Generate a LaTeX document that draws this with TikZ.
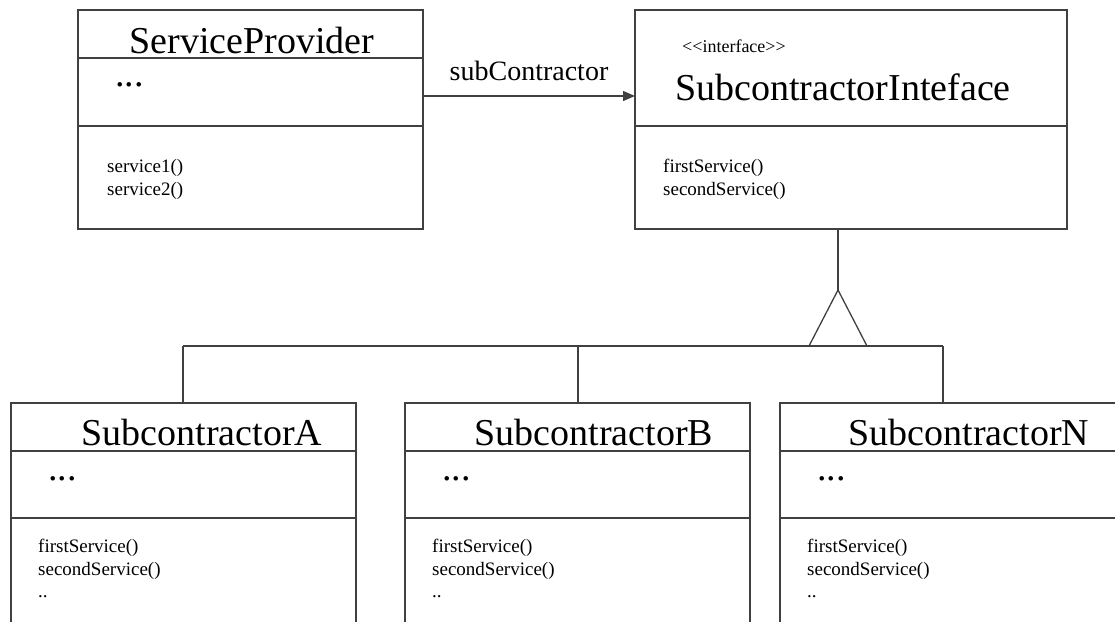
\documentclass[tikz,border=0pt]{standalone}
\usepackage{fontspec}
\setmainfont{Liberation Serif}
\usetikzlibrary{arrows.meta,positioning}

\tikzset{
  umlbox/.style={draw=black!75, line width=1.3pt, rectangle, inner sep=0pt, outer sep=0pt, anchor=north west},
  rule/.style={draw=black!75, line width=1.3pt},
  titletext/.style={font=\fontsize{38}{40}\selectfont, inner sep=0pt, anchor=base},
  dotstext/.style={font=\fontsize{38}{40}\selectfont, inner sep=0pt, anchor=base west},
  opstext/.style={font=\fontsize{19}{23}\selectfont, inner sep=0pt, anchor=base west}
}

\begin{document}
\begin{tikzpicture}[x=1pt, y=-1pt]
\useasboundingbox (0,0) rectangle (1115,621);
\clip (0,0) rectangle (1115,621);

% service provider class
\node[umlbox, minimum width=345pt, minimum height=219pt] (sp) at (78,10) {};
\draw[rule] ([yshift=-48pt]sp.north west) -- ([yshift=-48pt]sp.north east);
\draw[rule] ([yshift=-116pt]sp.north west) -- ([yshift=-116pt]sp.north east);
\node[titletext] (spname) at ([shift={(174,43)}]sp.north west) {ServiceProvider};
\node[dotstext] (spattr) at ([shift={(37,76)}]sp.north west) {...};
\node[opstext] (spopa) at ([shift={(29,162)}]sp.north west) {service1()};
\node[opstext] (spopb) at ([shift={(29,185)}]sp.north west) {service2()};

% interface class
\node[umlbox, minimum width=432pt, minimum height=219pt] (ifc) at (635,10) {};
\draw[rule] ([yshift=-116pt]ifc.north west) -- ([yshift=-116pt]ifc.north east);
\node[opstext, font=\fontsize{18}{22}\selectfont] (ifcstereo) at ([shift={(47,42)}]ifc.north west) {<{}<interface>{}>};
\node[dotstext] (ifcname) at ([shift={(40,90)}]ifc.north west) {SubcontractorInteface};
\node[opstext] (ifcopa) at ([shift={(28,162)}]ifc.north west) {firstService()};
\node[opstext] (ifcopb) at ([shift={(28,185)}]ifc.north west) {secondService()};

% association
\draw[rule, -{Triangle[length=12pt,width=10pt]}] ([yshift=-86pt]sp.north east) -- ([yshift=-86pt]ifc.north west)
  node[midway, above=15pt, inner sep=0pt, font=\fontsize{28}{30}\selectfont] (assoc) {subContractor};

% generalization
\coordinate (apex) at (838,290);
\coordinate (bus) at (838,346);
\draw[rule] (ifc.south -| apex) -- (apex);
\draw[rule] (apex) -- ++(-29,56) -- ++(58,0) -- cycle;

% subcontractor classes
\foreach \cname/\x/\off/\tx in {A/11/172/191, B/405/173/189, N/780/163/189}{
  \node[umlbox, minimum width=345pt, minimum height=260pt] (sub\cname) at (\x,403) {};
  \draw[rule] ([yshift=-48pt]sub\cname.north west) -- ([yshift=-48pt]sub\cname.north east);
  \draw[rule] ([yshift=-115pt]sub\cname.north west) -- ([yshift=-115pt]sub\cname.north east);
  \node[titletext] (name\cname) at ([shift={(\tx,42)}]sub\cname.north west) {Subcontractor\cname};
  \node[dotstext] (attr\cname) at ([shift={(37,77)}]sub\cname.north west) {...};
  \node[opstext] (opa\cname) at ([shift={(27,149)}]sub\cname.north west) {firstService()};
  \node[opstext] (opb\cname) at ([shift={(27,172)}]sub\cname.north west) {secondService()};
  \node[opstext] (opc\cname) at ([shift={(27,194)}]sub\cname.north west) {..};
  \coordinate (drop\cname) at ([xshift=\off pt]sub\cname.north west);
  \draw[rule] (drop\cname) -- (drop\cname |- bus);
}
\draw[rule] (dropA |- bus) -- (dropN |- bus);
\end{tikzpicture}
\end{document}
